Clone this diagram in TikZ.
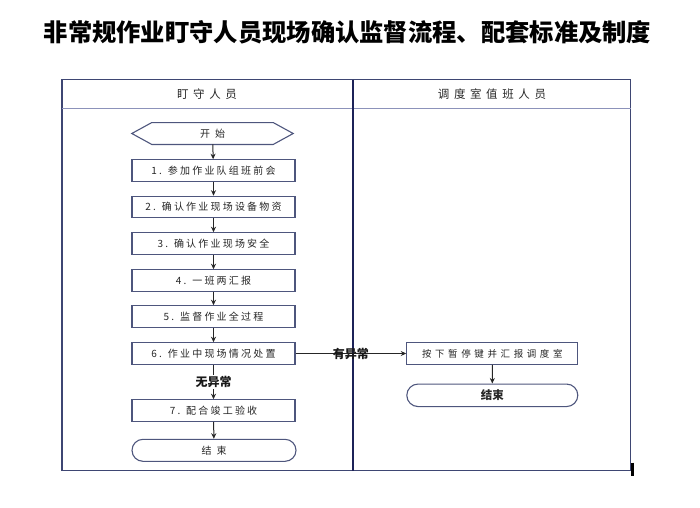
\documentclass[tikz,border=0pt]{standalone}
\usepackage{fontspec}
\setmainfont{Noto Sans CJK SC}
\usepackage{xcolor}
\usepackage{tikz}
\usetikzlibrary{arrows.meta,shapes.misc}
\definecolor{lanenavy}{RGB}{62, 70, 115}
\definecolor{dividenavy}{RGB}{28, 34, 88}
\definecolor{boxnavy}{RGB}{78, 86, 125}
\definecolor{headgray}{RGB}{140, 146, 186}

\tikzset{
  stepbox/.style={draw=boxnavy, line width=1.1pt, minimum width=163pt, minimum height=21.5pt,
    inner sep=0pt, text=black!85, font=\fontsize{10}{12}\selectfont\addfontfeature{LetterSpace=22}},
  endcap/.style={rounded rectangle, draw=boxnavy, line width=1.1pt, minimum width=164pt,
    minimum height=22pt, inner sep=0pt, text=black!85},
  flow/.style={-{Stealth[length=5.5pt,width=5pt]}, line width=1pt, black!85},
  tag/.style={font=\fontsize{12}{14}\selectfont\bfseries, text=black!90, inner sep=1pt}
}

\begin{document}
\begin{tikzpicture}[x=1pt,y=-1pt]
\useasboundingbox (0,0) rectangle (700,507);

% Title
\node (title) at (347.5,32) {\fontsize{24.3}{27}\selectfont\bfseries 非常规作业盯守人员现场确认监督流程、配套标准及制度};

% Swimlane frame
\draw[lanenavy, line width=1.3pt] (62,79.5) rectangle (630.5,470.5);
\draw[headgray, line width=1pt] (62,108.3) -- (630.5,108.3);
\draw[dividenavy, line width=1.4pt] (353,79.5) -- (353,470.5);
\draw[black, line width=2.4pt] (632.6,462.7) -- (632.6,476);
\node[text=black!85, font=\fontsize{11.5}{13}\selectfont\addfontfeature{LetterSpace=40}] (lane1) at (207,94) {盯守人员};
\node[text=black!85, font=\fontsize{11.5}{13}\selectfont\addfontfeature{LetterSpace=40}] (lane2) at (492,94) {调度室值班人员};

% Start
\node[minimum width=161pt, minimum height=21.5pt, inner sep=0pt, text=black!85,
  font=\fontsize{10}{12}\selectfont\addfontfeature{LetterSpace=50}] (start) at (212.5,133.5) {开始};
\draw[boxnavy, line width=1.1pt] (start.west) -- ([xshift=20pt]start.north west) -- ([xshift=-20pt]start.north east)
  -- (start.east) -- ([xshift=-20pt]start.south east) -- ([xshift=20pt]start.south west) -- cycle;

% Steps of the watchman
\foreach \i/\y/\txt in {1/170.5/1. 参加作业队组班前会, 2/207/2. 确认作业现场设备物资, 3/243.5/3. 确认作业现场安全,
    4/280.5/4. 一班两汇报, 5/316.5/5. 监督作业全过程, 6/353.5/6. 作业中现场情况处置, 7/410.5/7. 配合竣工验收} {
  \node[stepbox] (s\i) at (213.5,\y) {\txt};
}
\node[endcap, font=\fontsize{10}{12}\selectfont\addfontfeature{LetterSpace=50}] (stop) at (214,450.3) {结束};

% Dispatcher side
\node[stepbox, minimum width=171pt, font=\fontsize{9.5}{11}\selectfont\addfontfeature{LetterSpace=38}] (halt) at (492.3,353.5) {按下暂停键并汇报调度室};
\node[endcap, minimum width=171pt, minimum height=22.5pt, font=\fontsize{11.5}{13}\selectfont\bfseries] (haltend) at (492.3,395.3) {结束};

% Connectors
\foreach \a/\b in {start/s1, s1/s2, s2/s3, s3/s4, s4/s5, s5/s6, s7/stop} {
  \draw[flow] (\a) -- (\b);
}
\draw[flow] (s6) -- node[tag, fill=white] {无异常} (s7);
\draw[flow] (s6) -- node[tag] {有异常} (halt);
\draw[flow] (halt) -- (haltend);
\end{tikzpicture}
\end{document}
